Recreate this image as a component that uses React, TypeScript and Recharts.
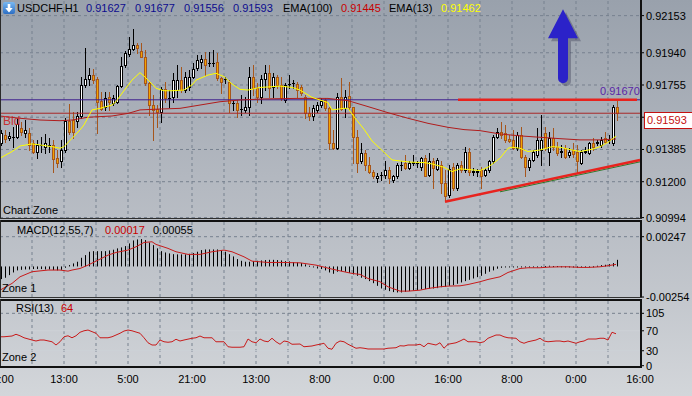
import React from 'react';
import { ComposedChart, Bar, Line, XAxis, YAxis, CartesianGrid, ReferenceLine, ReferenceDot } from 'recharts';

const FONT = '"Liberation Sans", Arial, Helvetica, sans-serif';

// ---------- axis ticks / labels ----------
const timeTicks = [0, 16, 32, 48, 64, 80, 96, 112, 128, 144, 160];
const timeLabels = ['21:00', '13:00', '5:00', '21:00', '13:00', '8:00', '0:00', '16:00', '8:00', '0:00', '16:00'];
const gridBars = [8, 16, 24, 32, 40, 48, 56, 64, 72, 80, 88, 96, 104, 112, 120, 128, 136, 144, 152];
const priceTicks = [0.92153, 0.9194, 0.91755, 0.9157, 0.91385, 0.912, 0.90994];
const macdTicks = [0.00247, -0.00254];
const rsiTicks = [0, 30, 70, 105];

// ---------- header values ----------
const symbol = 'USDCHF,H1';
const quote = ['0.91627', '0.91677', '0.91556', '0.91593'];
const ema100Last = '0.91445';
const ema13Last = '0.91462';
const macdLast = ['0.00017', '0.00055'];
const rsiLast = '64';

// ---------- levels / annotations ----------
const resistance = 0.9167;
const bidPrice = 0.91593;
const resistFrom = 114.5;
const resistTo = 159.25;
const trendStart = { bar: 111.25, price: 0.91085 };
const trendEnd = { bar: 160, price: 0.91325 };
const greenStart = { bar: 125, price: 0.91142 };
const greenEnd = { bar: 160, price: 0.91314 };
const arrowAt = { bar: 140.5, price: 0.9219 };

// ---------- OHLC (hourly bars) ----------
const opens = [
  0.91423, 0.91468, 0.91449, 0.91455, 0.91459, 0.91507, 0.91478, 0.91478, 0.91421, 0.91373,
  0.91409, 0.91401, 0.91409, 0.91411, 0.91335, 0.91316, 0.91382, 0.9155, 0.91554, 0.9155,
  0.91577, 0.91755, 0.91787, 0.91812, 0.91787, 0.91665, 0.91631, 0.91688, 0.9165, 0.91659,
  0.91749, 0.91869, 0.91932, 0.91959, 0.91984, 0.91952, 0.91917, 0.91764, 0.9164, 0.91615,
  0.91602, 0.9173, 0.91678, 0.91688, 0.91726, 0.91783, 0.91726, 0.91745, 0.91803, 0.9185,
  0.91889, 0.91902, 0.91879, 0.91879, 0.91889, 0.91793, 0.91787, 0.91774, 0.9165, 0.91654,
  0.91619, 0.91612, 0.91627, 0.91803, 0.91736, 0.91688, 0.91787, 0.91826, 0.91745, 0.91803,
  0.91755, 0.91669, 0.91759, 0.91764, 0.91759, 0.91745, 0.91688, 0.91592, 0.91577, 0.91612,
  0.9164, 0.91669, 0.91621, 0.91424, 0.91392, 0.91688, 0.91621, 0.91692, 0.91627, 0.91459,
  0.91316, 0.91363, 0.91296, 0.91258, 0.9122, 0.91239, 0.91239, 0.91268, 0.9121, 0.9123,
  0.91296, 0.91306, 0.91277, 0.9131, 0.91306, 0.91287, 0.91335, 0.91239, 0.91316, 0.91272,
  0.91296, 0.91191, 0.91125, 0.91287, 0.91163, 0.91296, 0.91268, 0.91373, 0.91258, 0.91258,
  0.91268, 0.91239, 0.91268, 0.91316, 0.91459, 0.91487, 0.91478, 0.91444, 0.9144, 0.91392,
  0.91468, 0.91344, 0.91287, 0.91325, 0.91354, 0.91382, 0.91478, 0.91373, 0.91449, 0.91401,
  0.91373, 0.91392, 0.91354, 0.91382, 0.91373, 0.91306, 0.91373, 0.91367, 0.91421, 0.91424,
  0.91411, 0.91449, 0.9144, 0.91421, 0.91627,
];
const highs = [
  0.91497, 0.91497, 0.91487, 0.91516, 0.91564, 0.91545, 0.91554, 0.91507, 0.9144, 0.9144,
  0.91459, 0.91474, 0.91449, 0.9144, 0.91382, 0.9144, 0.91564, 0.91646, 0.91602, 0.91602,
  0.91803, 0.91965, 0.9185, 0.91845, 0.91803, 0.91717, 0.91717, 0.91717, 0.91698, 0.91755,
  0.91917, 0.91952, 0.92032, 0.92076, 0.91997, 0.91997, 0.91955, 0.91774, 0.91698, 0.9164,
  0.91745, 0.91774, 0.91726, 0.91822, 0.91869, 0.9186, 0.91831, 0.91841, 0.91879, 0.91927,
  0.91927, 0.91946, 0.91946, 0.91955, 0.9194, 0.91803, 0.91803, 0.91783, 0.91669, 0.91669,
  0.91698, 0.91688, 0.9186, 0.91869, 0.91764, 0.91812, 0.91869, 0.91869, 0.91822, 0.91812,
  0.91803, 0.91764, 0.91812, 0.91783, 0.91774, 0.91755, 0.91698, 0.91631, 0.9164, 0.91659,
  0.91678, 0.91678, 0.91631, 0.91497, 0.91707, 0.91793, 0.91726, 0.91774, 0.91631, 0.91497,
  0.91421, 0.91382, 0.91344, 0.91268, 0.91249, 0.91258, 0.91316, 0.91287, 0.91239, 0.91306,
  0.91316, 0.91354, 0.91316, 0.91354, 0.91316, 0.91344, 0.91354, 0.91363, 0.91335, 0.91335,
  0.91316, 0.91268, 0.91296, 0.91306, 0.91306, 0.91316, 0.91401, 0.91392, 0.91277, 0.91272,
  0.91287, 0.91277, 0.91325, 0.91468, 0.91507, 0.91545, 0.91526, 0.91468, 0.91497, 0.91487,
  0.91516, 0.91354, 0.91335, 0.91382, 0.91507, 0.91583, 0.91516, 0.91487, 0.91507, 0.9143,
  0.91411, 0.91411, 0.91392, 0.91421, 0.91411, 0.91382, 0.91401, 0.9143, 0.91449, 0.9144,
  0.91459, 0.91487, 0.91468, 0.9164, 0.91677,
];
const lows = [
  0.91411, 0.9143, 0.9144, 0.91401, 0.91449, 0.91468, 0.91459, 0.91382, 0.91363, 0.91335,
  0.91373, 0.91363, 0.91371, 0.91253, 0.91287, 0.91287, 0.91373, 0.91474, 0.91449, 0.91516,
  0.91564, 0.91745, 0.91755, 0.91768, 0.91478, 0.91612, 0.91612, 0.91612, 0.9164, 0.9165,
  0.91745, 0.9186, 0.91921, 0.91955, 0.91936, 0.91913, 0.91755, 0.91583, 0.9144, 0.91516,
  0.91545, 0.91659, 0.91631, 0.91659, 0.91688, 0.91717, 0.91717, 0.91726, 0.91793, 0.91841,
  0.9185, 0.91812, 0.91864, 0.91864, 0.91783, 0.91707, 0.91764, 0.91602, 0.91612, 0.9157,
  0.91583, 0.91602, 0.91583, 0.91698, 0.91659, 0.9165, 0.91726, 0.91688, 0.91688, 0.91736,
  0.91669, 0.91659, 0.91736, 0.91736, 0.91688, 0.91698, 0.91564, 0.91554, 0.91554, 0.91602,
  0.91631, 0.91612, 0.91386, 0.91386, 0.91386, 0.91612, 0.91573, 0.91612, 0.91306, 0.91258,
  0.91306, 0.91268, 0.91249, 0.9122, 0.91201, 0.9121, 0.9122, 0.91191, 0.91201, 0.9122,
  0.91268, 0.91272, 0.91272, 0.91296, 0.91287, 0.91268, 0.9123, 0.9123, 0.91163, 0.91268,
  0.91134, 0.91096, 0.91115, 0.91153, 0.91153, 0.91258, 0.91258, 0.91239, 0.91239, 0.9123,
  0.91163, 0.9123, 0.91258, 0.91306, 0.91449, 0.91449, 0.9143, 0.9143, 0.9139, 0.91382,
  0.91335, 0.9123, 0.91268, 0.91316, 0.91344, 0.91296, 0.91382, 0.91296, 0.91382, 0.91354,
  0.91344, 0.91335, 0.91344, 0.91344, 0.91258, 0.91302, 0.91363, 0.91359, 0.91382, 0.91411,
  0.91401, 0.91421, 0.91421, 0.91411, 0.91556,
];
const closes = [
  0.9148, 0.91444, 0.91463, 0.91459, 0.91531, 0.91487, 0.91497, 0.91411, 0.91373, 0.91411,
  0.91413, 0.91421, 0.91413, 0.91329, 0.91306, 0.91382, 0.9155, 0.91487, 0.91487, 0.91577,
  0.91755, 0.91787, 0.91812, 0.91783, 0.91659, 0.91615, 0.91678, 0.91659, 0.91678, 0.91749,
  0.91864, 0.91936, 0.91959, 0.91984, 0.91965, 0.91917, 0.91764, 0.9164, 0.91612, 0.91602,
  0.9173, 0.91678, 0.91679, 0.91783, 0.91783, 0.91726, 0.91803, 0.91803, 0.91845, 0.91898,
  0.91902, 0.91869, 0.9188, 0.91883, 0.91793, 0.91774, 0.91788, 0.9165, 0.91651, 0.91612,
  0.9162, 0.91631, 0.91803, 0.91736, 0.91688, 0.91787, 0.91826, 0.91736, 0.91803, 0.91755,
  0.91678, 0.91755, 0.9176, 0.91765, 0.91726, 0.91707, 0.91592, 0.91577, 0.91621, 0.9164,
  0.91665, 0.91621, 0.91424, 0.91392, 0.91688, 0.91615, 0.91688, 0.91627, 0.91459, 0.91306,
  0.91363, 0.91296, 0.91258, 0.9123, 0.91233, 0.9124, 0.91268, 0.9122, 0.9123, 0.91296,
  0.91297, 0.91277, 0.91306, 0.91311, 0.91307, 0.91335, 0.91235, 0.91316, 0.91277, 0.91325,
  0.91191, 0.91119, 0.91272, 0.91163, 0.91296, 0.91268, 0.91373, 0.91258, 0.91259, 0.9126,
  0.9123, 0.91268, 0.91316, 0.91459, 0.91487, 0.91468, 0.9144, 0.91436, 0.91392, 0.91468,
  0.91344, 0.91287, 0.91325, 0.91373, 0.9144, 0.9144, 0.91392, 0.91449, 0.91401, 0.91363,
  0.91374, 0.91344, 0.91373, 0.91359, 0.91316, 0.91373, 0.91374, 0.91421, 0.91401, 0.91425,
  0.9144, 0.9143, 0.91441, 0.91627, 0.91593,
];

// ---------- EMA(13) / EMA(100) read at selected bars ----------
const ema13Bars = [
  0, 3, 5, 8, 10, 13, 15, 16, 18, 20, 21, 23, 25, 28, 29, 30, 33, 35, 36, 38,
  39, 41, 43, 46, 48, 49, 52, 54, 56, 58, 60, 62, 65, 68, 70, 73, 75, 78, 80, 82,
  83, 86, 87, 89, 91, 93, 96, 98, 101, 103, 106, 108, 111, 113, 115, 118, 120, 122, 125, 127,
  128, 130, 132, 135, 138, 140, 143, 145, 148, 150, 152, 154,
];
const ema13Vals = [
  0.91335, 0.91373, 0.91405, 0.91417, 0.91411, 0.91401, 0.91392, 0.91401, 0.91449, 0.91497,
  0.91526, 0.91612, 0.91621, 0.9164, 0.91659, 0.91692, 0.91783, 0.91826, 0.91806, 0.91761,
  0.91736, 0.91722, 0.91722, 0.91726, 0.91755, 0.91783, 0.91812, 0.91822, 0.91803, 0.91761,
  0.9173, 0.91726, 0.91741, 0.91745, 0.91749, 0.91741, 0.91726, 0.91684, 0.91669, 0.91654,
  0.91612, 0.91621, 0.91621, 0.91558, 0.91501, 0.91434, 0.91369, 0.91325, 0.91316, 0.91312,
  0.9131, 0.91302, 0.91283, 0.91258, 0.91274, 0.91268, 0.91264, 0.91283, 0.91335, 0.91392,
  0.91398, 0.91392, 0.91373, 0.91382, 0.91401, 0.91398, 0.91382, 0.91373, 0.91386, 0.91401,
  0.91426, 0.91462,
];
const ema100Bars = [
  0, 5, 10, 15, 18, 22, 28, 32, 35, 40, 45, 50, 55, 60, 66, 74, 82, 87, 92, 97,
  102, 107, 112, 116, 120, 125, 130, 135, 140, 145, 150, 154,
];
const ema100Vals = [
  0.91577, 0.91564, 0.91554, 0.9155, 0.91554, 0.9157, 0.91577, 0.91592, 0.91612, 0.91617,
  0.91621, 0.9164, 0.91659, 0.91669, 0.91675, 0.91678, 0.91678, 0.91665, 0.91631, 0.91596,
  0.91564, 0.91535, 0.91512, 0.91499, 0.91493, 0.91474, 0.91463, 0.91455, 0.91447, 0.9144,
  0.9144, 0.91445,
];

// ---------- MACD(12,55,7) ----------
const macdHist = [
  -0.00105, -0.00094, -0.00072, -0.0005, -0.00033, -0.00028, -0.00025, -0.00025, -0.00022, -0.00022,
  -0.00022, -0.00025, -0.00025, -0.0003, -0.00033, -0.00028, -0.00011, 0.00011, 0.00025, 0.00039,
  0.00072, 0.00094, 0.00122, 0.00127, 0.00127, 0.00127, 0.00127, 0.00133, 0.00139, 0.0015,
  0.00158, 0.00169, 0.00191, 0.00216, 0.00224, 0.00227, 0.00219, 0.00199, 0.00177, 0.0015,
  0.00127, 0.00116, 0.00108, 0.00102, 0.001, 0.001, 0.001, 0.00105, 0.00111, 0.00122,
  0.00136, 0.00141, 0.00141, 0.00141, 0.00141, 0.00133, 0.00122, 0.00102, 0.00083, 0.00061,
  0.00047, 0.00039, 0.00039, 0.00044, 0.00047, 0.0005, 0.00053, 0.00055, 0.00055, 0.00053,
  0.0005, 0.00044, 0.00042, 0.00036, 0.00033, 0.00028, 0.00017, 0.00006, -0.00006, -0.00017,
  -0.00022, -0.00033, -0.0005, -0.00061, -0.00044, -0.00039, -0.00044, -0.00053, -0.00066, -0.00078,
  -0.00094, -0.00105, -0.00122, -0.00139, -0.00161, -0.00183, -0.00194, -0.00205, -0.00213, -0.00216,
  -0.00216, -0.00211, -0.00205, -0.00199, -0.00197, -0.00191, -0.00188, -0.00183, -0.00183, -0.0018,
  -0.00172, -0.00169, -0.00161, -0.00155, -0.00144, -0.00133, -0.00122, -0.00111, -0.001, -0.00089,
  -0.00078, -0.00061, -0.00044, -0.00033, -0.00019, -0.00011, -0.00008, -0.00006, -0.00003, -0.00006,
  -0.00006, -0.00006, -0.00008, -0.00008, -0.00006, -0.00003, 0.00003, 0.00006, 0.00003, 0.00003,
  0.00001, -0.00003, -0.00008, -0.00008, -0.00011, -0.00008, -0.00006, -0.00003, 0.00001, 0.00006,
  0.00011, 0.00014, 0.00019, 0.00028, 0.00055,
];
const signalBars = [
  0, 3, 5, 8, 12, 15, 17, 18, 20, 22, 24, 27, 29, 32, 34, 36, 38, 39, 42, 44,
  47, 50, 53, 56, 58, 61, 63, 67, 71, 75, 79, 83, 86, 88, 90, 92, 95, 97, 100, 102,
  105, 107, 110, 112, 115, 117, 120, 122, 125, 127, 130, 132, 135, 137, 140, 142, 145, 147, 150, 152,
  154,
];
const signalVals = [
  -0.00197, -0.00141, -0.00086, -0.00044, -0.0003, -0.0003, -0.00039, -0.0003, -0.00017, 0.00011,
  0.00044, 0.00094, 0.00116, 0.00136, 0.00163, 0.00199, 0.00205, 0.00183, 0.0015, 0.00122,
  0.001, 0.001, 0.00122, 0.00136, 0.00122, 0.0008, 0.00044, 0.00033, 0.00033, 0.0003,
  0.00011, -0.00022, -0.00044, -0.00058, -0.00066, -0.001, -0.00127, -0.00169, -0.00205, -0.00205,
  -0.00197, -0.00183, -0.00169, -0.00163, -0.00161, -0.0015, -0.00127, -0.00108, -0.00086, -0.0005,
  -0.00017, -0.00011, -0.00011, -0.00006, -0.00003, -0.00003, -0.00008, -0.00008, -0.00003, 0.00006,
  0.00017,
];

// ---------- RSI(13) ----------
const rsiBars = [
  0, 1, 3, 4, 5, 6, 8, 9, 10, 11,
  13, 14, 15, 16, 17, 18, 19, 20, 21, 22,
  24, 25, 27, 28, 30, 31, 32, 33, 35, 36,
  37, 38, 39, 40, 41, 42, 43, 44, 45, 46,
  48, 49, 50, 51, 53, 54, 55, 56, 57, 58,
  60, 61, 62, 63, 64, 65, 66, 67, 68, 69,
  70, 71, 72, 73, 75, 76, 78, 79, 80, 81,
  82, 83, 84, 85, 86, 87, 89, 90, 91, 92,
  94, 95, 96, 97, 99, 100, 101, 102, 104, 105,
  106, 107, 109, 110, 111, 112, 114, 115, 116, 117,
  119, 120, 121, 122, 124, 125, 126, 127, 129, 130,
  131, 132, 134, 135, 136, 137, 139, 140, 141, 142,
  144, 145, 146, 147, 149, 150, 151, 152, 153, 154,
];
const rsiVals = [
  58, 58, 59.5, 63, 60, 56, 51.5, 49.5, 51.5, 51.5,
  48, 41.5, 48, 58, 60, 56, 60, 67, 70, 71.5,
  65, 56, 56, 58, 65, 69.5, 71.5, 70, 65, 56,
  46, 41.5, 41.5, 51.5, 48, 47, 48, 53, 49.5, 51.5,
  55, 56, 59.5, 56, 56, 48, 48, 48, 38, 37,
  37, 38, 53.5, 48, 46, 53.5, 49.5, 48, 55, 48,
  43, 49.5, 48, 43, 43.5, 38, 39.5, 41.5, 43, 45,
  35, 33, 45, 49.5, 48, 43, 35, 36, 35, 33.5,
  33.5, 33.5, 33.5, 35, 36, 40, 39.5, 41.5, 41.5, 43,
  38, 45, 41.5, 46, 35, 43, 46, 49.5, 53.5, 48,
  48, 46, 48, 55, 61.5, 61.5, 58, 56, 55, 48,
  45, 48, 51.5, 55, 49.5, 48, 49.5, 49.5, 48, 49.5,
  45, 48, 49.5, 53.5, 53.5, 55, 55, 51.5, 67, 64,
];

// ---------- build chart tables ----------
type MainRow = { i: number; o: number; h: number; l: number; c: number; range: [number, number]; ema13: number | null; ema100: number | null };
const mainData: MainRow[] = opens.map((o, i) => ({
  i, o, h: highs[i], l: lows[i], c: closes[i], range: [lows[i], highs[i]], ema13: null, ema100: null,
}));
ema13Bars.forEach((b, k) => { mainData[b].ema13 = ema13Vals[k]; });
ema100Bars.forEach((b, k) => { mainData[b].ema100 = ema100Vals[k]; });

const macdData = macdHist.map((v, i) => ({ i, macd: v, signal: null as number | null }));
signalBars.forEach((b, k) => { macdData[b].signal = signalVals[k]; });

const rsiData = opens.map((_, i) => ({ i, rsi: null as number | null }));
rsiBars.forEach((b, k) => { rsiData[b].rsi = rsiVals[k]; });

// ---------- shapes ----------
const Candle = (props: any) => {
  const { x, y, width, height, payload } = props;
  if (x == null || y == null || !payload) return null;
  const top = Math.min(y, y + height);
  const bot = Math.max(y, y + height);
  const { o, h, l, c } = payload;
  const span = h - l;
  const py = (v: number) => (span > 0 ? top + ((h - v) / span) * (bot - top) : top);
  const cx = Math.floor(x + width / 2 + 0.5) + 0.5;
  const bull = c >= o;
  const wick = bull ? '#000000' : '#a6561c';
  const yo = py(o);
  const yc = py(c);
  const bt = Math.round(Math.min(yo, yc)) + 0.5;
  const bb = Math.round(Math.max(yo, yc)) + 0.5;
  return (
    <g>
      <line x1={cx} x2={cx} y1={Math.round(top)} y2={Math.round(bot) + 1} stroke={wick} strokeWidth={1} />
      {bb - bt >= 1 ? (
        <rect x={cx - 1} y={bt} width={2} height={bb - bt} fill={bull ? '#ffffff' : '#f3a300'} stroke={wick} strokeWidth={1} />
      ) : (
        <line x1={cx - 1.5} x2={cx + 1.5} y1={bt} y2={bt} stroke={wick} strokeWidth={1} />
      )}
    </g>
  );
};

const HistBar = (props: any) => {
  const { x, y, width, height } = props;
  if (x == null || y == null) return null;
  const cx = Math.floor(x + width / 2 + 0.5) + 0.5;
  const y1 = Math.min(y, y + height);
  const y2 = Math.max(y, y + height);
  return <line x1={cx} x2={cx} y1={y1} y2={Math.max(y2, y1 + 1)} stroke="#000000" strokeWidth={1} />;
};

const Arrow = (props: any) => {
  const { cx, cy } = props;
  if (cx == null || cy == null) return null;
  const c = cx + 1;
  const d = `M${c} ${cy} L${c + 15} ${cy + 29} L${c + 5} ${cy + 29} L${c + 5} ${cy + 69} A5 5 0 0 1 ${c - 5} ${cy + 69} L${c - 5} ${cy + 29} L${c - 15} ${cy + 29} Z`;
  return (
    <g>
      <path d={d} transform="translate(3 3)" fill="#22223a" opacity={0.3} />
      <path d={d} fill="#2b22c9" />
    </g>
  );
};

// ---------- helpers ----------
const GRID = '#77818f';
const tickStyle = { fill: '#000000', fontSize: 11, fontFamily: FONT };

const Txt = ({ x, y, color = '#000', size = 11, children }: any) => (
  <div style={{ position: 'absolute', left: x, top: y, color, fontSize: size, lineHeight: '13px', whiteSpace: 'nowrap', fontFamily: FONT }}>
    {children}
  </div>
);
const Box = ({ x, y, w, h, bg }: any) => (
  <div style={{ position: 'absolute', left: x, top: y, width: w, height: h, background: bg }} />
);

export default function App() {
  return (
    <div
      style={{
        position: 'absolute', left: 0, top: 0, width: 692, height: 396, overflow: 'hidden',
        background: 'linear-gradient(to bottom, #99a1ac 0%, #b3b8c0 45%, #c3c7cd 75%, #d3d6da 100%)',
        fontFamily: FONT,
      }}
    >
      <style>{'.recharts-surface{overflow:visible}'}</style>
      {/* main price pane */}
      <div style={{ position: 'absolute', left: 0, top: 0 }}>
        <ComposedChart width={692} height={219} data={mainData} margin={{ top: 1, right: 0, bottom: 0, left: 0 }}>
          <CartesianGrid stroke={GRID} strokeDasharray="3 3" horizontalValues={priceTicks} verticalValues={gridBars} />
          <XAxis dataKey="i" type="number" domain={[0, 160]} ticks={gridBars} allowDataOverflow hide />
          <YAxis
            orientation="right" width={52} type="number" domain={[0.90986, 0.92237]} allowDataOverflow
            ticks={priceTicks} interval={0} tickFormatter={(v: number) => v.toFixed(5)}
            tick={tickStyle} tickLine={{ stroke: '#000' }} tickSize={4} tickMargin={2} axisLine={false}
          />
          <ReferenceLine y={resistance} stroke="#3b1c8c" strokeWidth={1} />
          <ReferenceLine y={bidPrice} stroke="#a82828" strokeWidth={1} />
          <Line dataKey="ema100" type="linear" stroke="#b01c1c" strokeWidth={1} dot={false} connectNulls isAnimationActive={false} />
          <Bar dataKey="range" shape={Candle} barSize={3} isAnimationActive={false} />
          <Line dataKey="ema13" type="linear" stroke="#ffff00" strokeWidth={1} dot={false} connectNulls isAnimationActive={false} />
          <ReferenceLine
            segment={[{ x: greenStart.bar, y: greenStart.price }, { x: greenEnd.bar, y: greenEnd.price }]}
            stroke="#2f7a2a" strokeWidth={1} ifOverflow="visible"
          />
          <ReferenceLine
            segment={[{ x: trendStart.bar, y: trendStart.price }, { x: trendEnd.bar, y: trendEnd.price }]}
            stroke="#e8231e" strokeWidth={2.5} ifOverflow="visible"
          />
          <ReferenceLine
            segment={[{ x: resistFrom, y: resistance }, { x: resistTo, y: resistance }]}
            stroke="#e8231e" strokeWidth={2.5} ifOverflow="visible"
          />
          <ReferenceDot x={arrowAt.bar} y={arrowAt.price} r={0} shape={Arrow} ifOverflow="visible" />
        </ComposedChart>
      </div>

      {/* MACD pane */}
      <div style={{ position: 'absolute', left: 0, top: 221 }}>
        <ComposedChart width={692} height={77} data={macdData} margin={{ top: 1, right: 0, bottom: 0, left: 0 }}>
          <CartesianGrid stroke={GRID} strokeDasharray="3 3" horizontalValues={[0.00247]} verticalValues={gridBars} />
          <XAxis dataKey="i" type="number" domain={[0, 160]} ticks={gridBars} allowDataOverflow hide />
          <YAxis
            orientation="right" width={52} type="number" domain={[-0.00262, 0.00369]} allowDataOverflow
            ticks={macdTicks} interval={0} tickFormatter={(v: number) => v.toFixed(5)}
            tick={tickStyle} tickLine={{ stroke: '#000' }} tickSize={4} tickMargin={2} axisLine={false}
          />
          <Bar dataKey="macd" shape={HistBar} barSize={1} isAnimationActive={false} />
          <Line dataKey="signal" type="linear" stroke="#c81a1a" strokeWidth={1} dot={false} connectNulls isAnimationActive={false} />
        </ComposedChart>
      </div>

      {/* RSI pane + time axis */}
      <div style={{ position: 'absolute', left: 0, top: 300 }}>
        <ComposedChart width={692} height={96} data={rsiData} margin={{ top: 1, right: 0, bottom: 0, left: 0 }}>
          <CartesianGrid stroke={GRID} strokeDasharray="3 3" horizontalValues={[105]} verticalValues={gridBars} />
          <XAxis
            dataKey="i" type="number" domain={[0, 160]} allowDataOverflow height={29}
            ticks={timeTicks} interval={0} tickFormatter={(v: number) => timeLabels[timeTicks.indexOf(v)] ?? ''}
            tick={tickStyle} tickLine={false} axisLine={false} tickSize={6} tickMargin={2}
          />
          <YAxis
            orientation="right" width={52} type="number" domain={[-2.6, 129.7]} allowDataOverflow
            ticks={rsiTicks} interval={0}
            tick={tickStyle} tickLine={{ stroke: '#000' }} tickSize={4} tickMargin={2} axisLine={false}
          />
          <ReferenceLine y={70} stroke="#cdd1d7" strokeWidth={1} />
          <ReferenceLine y={30} stroke="#cdd1d7" strokeWidth={1} />
          <Line dataKey="rsi" type="linear" stroke="#c81a1a" strokeWidth={1} dot={false} connectNulls isAnimationActive={false} />
        </ComposedChart>
      </div>

      {/* pane frames */}
      <Box x={0} y={0} w={1} h={219} bg="#2a2a2a" />
      <Box x={640} y={0} w={2} h={219} bg="#111" />
      <Box x={0} y={218} w={642} h={1} bg="#2e2e2e" />
      <Box x={0} y={220} w={642} h={2} bg="#111" />
      <Box x={0} y={220} w={1} h={78} bg="#2a2a2a" />
      <Box x={640} y={220} w={2} h={78} bg="#111" />
      <Box x={0} y={297} w={642} h={1} bg="#333" />
      <Box x={0} y={299} w={642} h={2} bg="#111" />
      <Box x={0} y={299} w={1} h={69} bg="#2a2a2a" />
      <Box x={640} y={299} w={2} h={69} bg="#111" />
      <Box x={0} y={366} w={642} h={2} bg="#111" />

      {/* header */}
      <div style={{ position: 'absolute', left: 3, top: 2, width: 12, height: 12, borderRadius: 2, background: 'linear-gradient(#78b8f2, #2c6ec4)' }}>
        <svg width={12} height={12} style={{ display: 'block' }}>
          <path d="M6 10.5 L2.3 6 H4.7 V2 H7.3 V6 H9.7 Z" fill="#ffffff" />
        </svg>
      </div>
      <Txt x={17} y={2}>{symbol}</Txt>
      <Txt x={86} y={2} color="#0c0c8e">{quote[0]}</Txt>
      <Txt x={135} y={2} color="#0c0c8e">{quote[1]}</Txt>
      <Txt x={184} y={2} color="#0c0c8e">{quote[2]}</Txt>
      <Txt x={233} y={2} color="#0c0c8e">{quote[3]}</Txt>
      <Txt x={283} y={2}>EMA(100)</Txt>
      <Txt x={341} y={2} color="#c80000">{ema100Last}</Txt>
      <Txt x={389} y={2}>EMA(13)</Txt>
      <Txt x={441} y={2} color="#ffff00">{ema13Last}</Txt>

      <Txt x={3} y={115} color="#c83232" size={12}>Bid</Txt>
      <Txt x={600} y={85} color="#5a26a6">{resistance.toFixed(5)}</Txt>
      <Txt x={3} y={204}>Chart Zone</Txt>

      <Txt x={17} y={224}>MACD(12,55,7)</Txt>
      <Txt x={105} y={224} color="#c80000">{macdLast[0]}</Txt>
      <Txt x={153} y={224}>{macdLast[1]}</Txt>
      <Txt x={2} y={282}>Zone 1</Txt>

      <Txt x={16} y={302}>RSI(13)</Txt>
      <Txt x={61} y={302} color="#c80000">{rsiLast}</Txt>
      <Txt x={2} y={351}>Zone 2</Txt>

      {/* bid price tag */}
      <div
        style={{
          position: 'absolute', left: 644, top: 112, width: 52, height: 15, background: '#ffffff',
          border: '1px solid #c41010', color: '#c41010', fontSize: 11, lineHeight: '15px', paddingLeft: 2, fontFamily: FONT,
        }}
      >
        {bidPrice.toFixed(5)}
      </div>
    </div>
  );
}
